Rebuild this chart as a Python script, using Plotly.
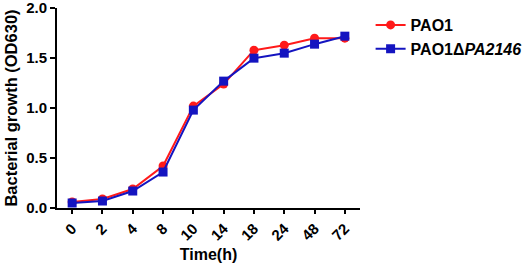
import plotly.graph_objects as go

time_labels = ["0", "2", "4", "8", "10", "14", "18", "24", "48", "72"]
pao1 = [0.06, 0.09, 0.19, 0.42, 1.02, 1.24, 1.58, 1.63, 1.70, 1.70]
mutant = [0.05, 0.07, 0.17, 0.36, 0.98, 1.27, 1.50, 1.55, 1.64, 1.72]
y_ticks = [0.0, 0.5, 1.0, 1.5, 2.0]

FONT = "Liberation Sans, Arial, sans-serif"
RED = "#FF1A1A"
BLUE = "#1414C0"

fig = go.Figure()
fig.add_trace(go.Scatter(
    x=time_labels, y=pao1, mode="lines+markers", name="<b>PAO1</b>",
    line=dict(color=RED, width=2), marker=dict(symbol="circle", size=9, color=RED)))
fig.add_trace(go.Scatter(
    x=time_labels, y=mutant, mode="lines+markers", name="<b>PAO1Δ<i>PA2146</i></b>",
    line=dict(color=BLUE, width=2), marker=dict(symbol="square", size=9, color=BLUE)))

fig.update_layout(
    width=532, height=267,
    margin=dict(l=57, r=172, t=8, b=59, autoexpand=False),
    plot_bgcolor="white", paper_bgcolor="white",
    font=dict(family=FONT, color="black", size=15),
    showlegend=True,
    legend=dict(x=1.035, y=1.0, xanchor="left", yanchor="top",
                font=dict(size=16, family=FONT, color="black"),
                bgcolor="rgba(0,0,0,0)", tracegroupgap=0, itemwidth=30),
    xaxis=dict(
        type="category", range=[-0.5, 9.5], automargin=False,
        showline=True, linecolor="black", linewidth=2,
        ticks="outside", ticklen=4, tickwidth=2, tickcolor="black",
        tickangle=-45, showgrid=False, zeroline=False,
        tickfont=dict(size=15, family=FONT, color="black", weight="bold"),
        title=dict(text="<b>Time(h)</b>", font=dict(size=16, family=FONT), standoff=6),
    ),
    yaxis=dict(
        range=[0, 2.002], tickvals=y_ticks, ticktext=[f"<b>{v:.1f}</b>" for v in y_ticks],
        automargin=False, ticklabeloverflow="allow",
        showline=True, linecolor="black", linewidth=2,
        ticks="outside", ticklen=5, tickwidth=2, tickcolor="black",
        showgrid=False, zeroline=False,
        tickfont=dict(size=15, family=FONT, color="black"),
        title=dict(text="<b>Bacterial growth (OD630)</b>", font=dict(size=16.5, family=FONT), standoff=4),
    ),
)

fig.write_html("out.html", config={"displayModeBar": False},
               post_script="document.body.style.margin='0';")
